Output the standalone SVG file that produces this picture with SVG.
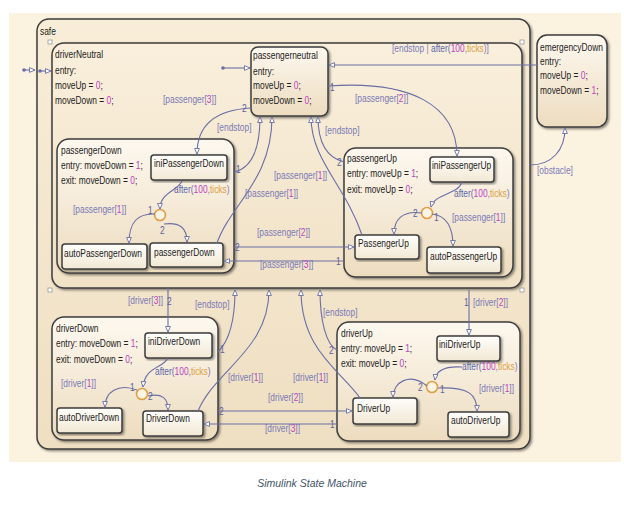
<svg xmlns="http://www.w3.org/2000/svg" width="624" height="514" viewBox="0 0 624 514">
<defs>
<style>
text{font-family:"Liberation Sans",Arial,sans-serif;font-size:10.5px}
.st{fill:#222}
.lb{fill:#7a7ab6}
.n{fill:#c040c0}
.tk{fill:#d9a040}
.af{fill:#5a66a8}
.nm{fill:#5d6099}
.c{fill:none;stroke:#6a6ea6;stroke-width:1.1}
.box{stroke:#3c3c3c;stroke-width:1.5}
.comp{fill:url(#gComp)}
.leaf{fill:url(#gLeaf)}
.jn{fill:#fbf3e4;stroke:#e0a048;stroke-width:1.6}
.sq{fill:#fff;stroke:#999;stroke-width:0.8}
.dot{fill:#6a6ea6}
</style>
<linearGradient id="gSafe" x1="0" y1="0" x2="0" y2="1"><stop offset="0" stop-color="#f8edd8"/><stop offset="1" stop-color="#efdfc2"/></linearGradient>
<linearGradient id="gDN" x1="0" y1="0" x2="0" y2="1"><stop offset="0" stop-color="#f9efdc"/><stop offset="1" stop-color="#f1e2c7"/></linearGradient>
<linearGradient id="gComp" x1="0" y1="0" x2="0" y2="1"><stop offset="0" stop-color="#fdf8ef"/><stop offset="1" stop-color="#eddcbf"/></linearGradient>
<linearGradient id="gLeaf" x1="0" y1="0" x2="0" y2="1"><stop offset="0" stop-color="#fffefb"/><stop offset="1" stop-color="#f2e8d4"/></linearGradient>
<filter id="sh" x="-10%" y="-10%" width="120%" height="120%"><feDropShadow dx="1.5" dy="1.5" stdDeviation="1" flood-color="#000" flood-opacity="0.45"/></filter>
<marker id="ar" markerWidth="8" markerHeight="8" refX="6" refY="3" orient="auto" markerUnits="userSpaceOnUse"><path d="M0.5,0.6 L6,3 L0.5,5.4 Z" fill="#fff" stroke="#6a6ea6" stroke-width="0.9"/></marker>
</defs>

<rect x="0" y="0" width="624" height="514" fill="#ffffff"/>
<rect x="9" y="13" width="612" height="449" fill="#fcf2e0"/>

<g id="safe">
<rect class="box" x="37" y="19" width="493" height="430" rx="12" fill="url(#gSafe)" filter="url(#sh)"/>
<text class="st" transform="scale(0.8 1)" x="50" y="35">safe</text>
</g>

<g id="driverNeutral">
<rect class="box" x="52" y="43" width="470" height="245" rx="12" fill="url(#gDN)" filter="url(#sh)"/>
<text class="st" transform="scale(0.8 1)" x="68.75" y="58">driverNeutral</text>
<text class="st" transform="scale(0.8 1)" x="68.75" y="74">entry:</text>
<text class="st" transform="scale(0.8 1)" x="68.75" y="89">moveUp = <tspan class="n">0</tspan>;</text>
<text class="st" transform="scale(0.8 1)" x="68.75" y="104">moveDown = <tspan class="n">0</tspan>;</text>
<rect class="sq" x="48" y="40" width="4" height="4"/>
<rect class="sq" x="520" y="40" width="4" height="4"/>
<rect class="sq" x="48" y="288" width="4" height="4"/>
<rect class="sq" x="520" y="288" width="4" height="4"/>
</g>

<g id="emergencyDown">
<rect class="box comp" x="537" y="35" width="70" height="92" rx="10" filter="url(#sh)"/>
<text class="st" transform="scale(0.8 1)" x="675" y="51">emergencyDown</text>
<text class="st" transform="scale(0.8 1)" x="675" y="65">entry:</text>
<text class="st" transform="scale(0.8 1)" x="675" y="79">moveUp = <tspan class="n">0</tspan>;</text>
<text class="st" transform="scale(0.8 1)" x="675" y="94">moveDown = <tspan class="n">1</tspan>;</text>
</g>

<g id="passengerneutral">
<rect class="box comp" x="251" y="47" width="77" height="69" rx="7" filter="url(#sh)"/>
<text class="st" transform="scale(0.8 1)" x="316.25" y="59">passengerneutral</text>
<text class="st" transform="scale(0.8 1)" x="316.25" y="75">entry:</text>
<text class="st" transform="scale(0.8 1)" x="316.25" y="89">moveUp = <tspan class="n">0</tspan>;</text>
<text class="st" transform="scale(0.8 1)" x="316.25" y="104">moveDown = <tspan class="n">0</tspan>;</text>
</g>

<g id="passengerDown">
<rect class="box comp" x="57" y="139" width="177" height="134" rx="12" filter="url(#sh)"/>
<text class="st" transform="scale(0.8 1)" x="76.25" y="154">passengerDown</text>
<text class="st" transform="scale(0.8 1)" x="76.25" y="169">entry: moveDown = <tspan class="n">1</tspan>;</text>
<text class="st" transform="scale(0.8 1)" x="76.25" y="184">exit: moveDown = <tspan class="n">0</tspan>;</text>
</g>
<g id="iniPassengerDown">
<rect class="box leaf" x="151" y="155" width="76" height="25" rx="3" filter="url(#sh)"/>
<text class="st" transform="scale(0.8 1)" x="192.5" y="167">iniPassengerDown</text>
</g>
<g id="autoPassengerDown">
<rect class="box leaf" x="62" y="244" width="85" height="25" rx="3" filter="url(#sh)"/>
<text class="st" transform="scale(0.8 1)" x="80" y="257">autoPassengerDown</text>
</g>
<g id="passengerDownLeaf">
<rect class="box leaf" x="150" y="243" width="73" height="24" rx="3" filter="url(#sh)"/>
<text class="st" transform="scale(0.8 1)" x="192.5" y="256">passengerDown</text>
</g>
<g id="junctionPD"><circle class="jn" cx="160" cy="215" r="5.5"/></g>

<g id="passengerUp">
<rect class="box comp" x="344" y="148" width="169" height="129" rx="12" filter="url(#sh)"/>
<text class="st" transform="scale(0.8 1)" x="433.75" y="162">passengerUp</text>
<text class="st" transform="scale(0.8 1)" x="433.75" y="177">entry: moveUp = <tspan class="n">1</tspan>;</text>
<text class="st" transform="scale(0.8 1)" x="433.75" y="193">exit: moveUp = <tspan class="n">0</tspan>;</text>
</g>
<g id="iniPassengerUp">
<rect class="box leaf" x="430" y="157" width="64" height="25" rx="3" filter="url(#sh)"/>
<text class="st" transform="scale(0.8 1)" x="540" y="169">iniPassengerUp</text>
</g>
<g id="PassengerUp">
<rect class="box leaf" x="355" y="235" width="64" height="24" rx="3" filter="url(#sh)"/>
<text class="st" transform="scale(0.8 1)" x="447.5" y="247">PassengerUp</text>
</g>
<g id="autoPassengerUp">
<rect class="box leaf" x="427" y="247" width="74" height="26" rx="3" filter="url(#sh)"/>
<text class="st" transform="scale(0.8 1)" x="537.5" y="260">autoPassengerUp</text>
</g>
<g id="junctionPU"><circle class="jn" cx="427" cy="213" r="5.5"/></g>

<g id="driverDown">
<rect class="box comp" x="52" y="317" width="166" height="123" rx="12" filter="url(#sh)"/>
<text class="st" transform="scale(0.8 1)" x="70" y="332">driverDown</text>
<text class="st" transform="scale(0.8 1)" x="70" y="347">entry: moveDown = <tspan class="n">1</tspan>;</text>
<text class="st" transform="scale(0.8 1)" x="70" y="363">exit: moveDown = <tspan class="n">0</tspan>;</text>
</g>
<g id="iniDriverDown">
<rect class="box leaf" x="145" y="333" width="67" height="25" rx="3" filter="url(#sh)"/>
<text class="st" transform="scale(0.8 1)" x="185" y="345">iniDriverDown</text>
</g>
<g id="autoDriverDown">
<rect class="box leaf" x="57" y="408" width="65" height="25" rx="3" filter="url(#sh)"/>
<text class="st" transform="scale(0.8 1)" x="73.75" y="421">autoDriverDown</text>
</g>
<g id="DriverDown">
<rect class="box leaf" x="143" y="411" width="60" height="25" rx="3" filter="url(#sh)"/>
<text class="st" transform="scale(0.8 1)" x="182.5" y="422">DriverDown</text>
</g>
<g id="junctionDD"><circle class="jn" cx="142" cy="394" r="5.5"/></g>

<g id="driverUp">
<rect class="box comp" x="337" y="322" width="183" height="119" rx="12" filter="url(#sh)"/>
<text class="st" transform="scale(0.8 1)" x="426.25" y="337">driverUp</text>
<text class="st" transform="scale(0.8 1)" x="426.25" y="352">entry: moveUp = <tspan class="n">1</tspan>;</text>
<text class="st" transform="scale(0.8 1)" x="426.25" y="367">exit: moveUp = <tspan class="n">0</tspan>;</text>
</g>
<g id="iniDriverUp">
<rect class="box leaf" x="437" y="336" width="63" height="25" rx="3" filter="url(#sh)"/>
<text class="st" transform="scale(0.8 1)" x="548.75" y="348">iniDriverUp</text>
</g>
<g id="DriverUp">
<rect class="box leaf" x="353" y="398" width="64" height="26" rx="3" filter="url(#sh)"/>
<text class="st" transform="scale(0.8 1)" x="446.25" y="412">DriverUp</text>
</g>
<g id="autoDriverUp">
<rect class="box leaf" x="448" y="412" width="61" height="25" rx="3" filter="url(#sh)"/>
<text class="st" transform="scale(0.8 1)" x="563.75" y="424">autoDriverUp</text>
</g>
<g id="junctionDU"><circle class="jn" cx="432" cy="387" r="5.5"/></g>

<g id="connectors">
<circle class="dot" cx="24" cy="70" r="1.8"/><path class="c" d="M24,70 L35,70" marker-end="url(#ar)"/>
<circle class="dot" cx="40" cy="71" r="1.8"/><path class="c" d="M40,71 L51,71" marker-end="url(#ar)"/>
<circle class="dot" cx="223" cy="68" r="1.8"/><path class="c" d="M223,68 L250,68" marker-end="url(#ar)"/>

<path class="c" d="M537,65 L329,65" marker-end="url(#ar)"/>
<path class="c" d="M530,165 C552,165 565,150 565,128" marker-end="url(#ar)"/>
<path class="c" d="M251,108 C215,110 197,125 197,154" marker-end="url(#ar)"/>
<path class="c" d="M234,172 C252,168 260,150 260,117" marker-end="url(#ar)"/>
<path class="c" d="M217,243 C230,205 272,180 272,117" marker-end="url(#ar)"/>
<path class="c" d="M362,235 C345,185 311,160 311,117" marker-end="url(#ar)"/>
<path class="c" d="M344,162 C328,158 318,145 318,117" marker-end="url(#ar)"/>
<path class="c" d="M328,86 C410,80 457,105 457,156" marker-end="url(#ar)"/>
<path class="c" d="M234,247 L354,247" marker-end="url(#ar)"/>
<path class="c" d="M344,261 L224,261" marker-end="url(#ar)"/>
<path class="c" d="M182,181 C178,191 160,192 160,209" marker-end="url(#ar)"/>
<path class="c" d="M155,214 C138,213 129,222 129,243" marker-end="url(#ar)"/>
<path class="c" d="M164,224 C180,222 187,228 187,242" marker-end="url(#ar)"/>
<path class="c" d="M462,182 C458,195 435,193 431,207" marker-end="url(#ar)"/>
<path class="c" d="M422,213 C402,210 394,220 394,234" marker-end="url(#ar)"/>
<path class="c" d="M432,214 C449,216 453,230 453,246" marker-end="url(#ar)"/>

<path class="c" d="M168,288 L168,332" marker-end="url(#ar)"/>
<path class="c" d="M218,352 C230,340 235,320 235,290" marker-end="url(#ar)"/>
<path class="c" d="M198,411 C215,370 269,350 269,290" marker-end="url(#ar)"/>
<path class="c" d="M360,398 C340,370 301,350 301,290" marker-end="url(#ar)"/>
<path class="c" d="M337,350 C326,345 320,320 320,290" marker-end="url(#ar)"/>
<path class="c" d="M469,290 L469,335" marker-end="url(#ar)"/>
<path class="c" d="M218,411 L352,411" marker-end="url(#ar)"/>
<path class="c" d="M337,424 L204,424" marker-end="url(#ar)"/>
<path class="c" d="M168,358 C164,368 145,366 143,387" marker-end="url(#ar)"/>
<path class="c" d="M137,390 C118,383 105,392 105,407" marker-end="url(#ar)"/>
<path class="c" d="M148,396 C162,393 168,398 168,410" marker-end="url(#ar)"/>
<path class="c" d="M462,367 C445,366 436,370 435,380" marker-end="url(#ar)"/>
<path class="c" d="M427,386 C410,372 393,382 393,397" marker-end="url(#ar)"/>
<path class="c" d="M438,388 C470,387 477,395 477,411" marker-end="url(#ar)"/>

<text class="lb" transform="scale(0.8 1)" x="490" y="52">[endstop | <tspan class="af">after(</tspan><tspan class="n">100</tspan>,<tspan class="tk">ticks</tspan>)]</text>
<text class="lb" transform="scale(0.8 1)" x="671.25" y="174">[obstacle]</text>
<text class="lb" transform="scale(0.8 1)" x="271.25" y="131">[endstop]</text>
<text class="lb" transform="scale(0.8 1)" x="406.25" y="134">[endstop]</text>
<text class="lb" transform="scale(0.8 1)" x="243.75" y="308">[endstop]</text>
<text class="lb" transform="scale(0.8 1)" x="403.75" y="316">[endstop]</text>

<text class="lb" transform="scale(0.8 1)" x="203.75" y="103">[passenger[<tspan class="n">3</tspan>]]</text>
<text class="lb" transform="scale(0.8 1)" x="443.75" y="102">[passenger[<tspan class="n">2</tspan>]]</text>
<text class="lb" transform="scale(0.8 1)" x="342.5" y="179">[passenger[<tspan class="n">1</tspan>]]</text>
<text class="lb" transform="scale(0.8 1)" x="306.25" y="197">[passenger[<tspan class="n">1</tspan>]]</text>
<text class="lb" transform="scale(0.8 1)" x="91.25" y="213">[passenger[<tspan class="n">1</tspan>]]</text>
<text class="lb" transform="scale(0.8 1)" x="565" y="221">[passenger[<tspan class="n">1</tspan>]]</text>
<text class="lb" transform="scale(0.8 1)" x="321.25" y="236">[passenger[<tspan class="n">2</tspan>]]</text>
<text class="lb" transform="scale(0.8 1)" x="325" y="268">[passenger[<tspan class="n">3</tspan>]]</text>

<text class="lb" transform="scale(0.8 1)" x="217.5" y="193"><tspan class="af">after(</tspan><tspan class="n">100</tspan>,<tspan class="tk">ticks</tspan>)</text>
<text class="lb" transform="scale(0.8 1)" x="567.5" y="197"><tspan class="af">after(</tspan><tspan class="n">100</tspan>,<tspan class="tk">ticks</tspan>)</text>
<text class="lb" transform="scale(0.8 1)" x="193.75" y="375"><tspan class="af">after(</tspan><tspan class="n">100</tspan>,<tspan class="tk">ticks</tspan>)</text>
<text class="lb" transform="scale(0.8 1)" x="577.5" y="370"><tspan class="af">after(</tspan><tspan class="n">100</tspan>,<tspan class="tk">ticks</tspan>)</text>

<text class="lb" transform="scale(0.8 1)" x="160" y="304">[driver[<tspan class="n">3</tspan>]]</text>
<text class="lb" transform="scale(0.8 1)" x="591.25" y="306">[driver[<tspan class="n">2</tspan>]]</text>
<text class="lb" transform="scale(0.8 1)" x="76.25" y="387">[driver[<tspan class="n">1</tspan>]]</text>
<text class="lb" transform="scale(0.8 1)" x="285" y="381">[driver[<tspan class="n">1</tspan>]]</text>
<text class="lb" transform="scale(0.8 1)" x="366.25" y="381">[driver[<tspan class="n">1</tspan>]]</text>
<text class="lb" transform="scale(0.8 1)" x="335" y="401">[driver[<tspan class="n">2</tspan>]]</text>
<text class="lb" transform="scale(0.8 1)" x="331.25" y="432">[driver[<tspan class="n">3</tspan>]]</text>
<text class="lb" transform="scale(0.8 1)" x="598.75" y="392">[driver[<tspan class="n">1</tspan>]]</text>

<text class="nm" transform="scale(0.8 1)" x="302.5" y="112">2</text>
<text class="nm" transform="scale(0.8 1)" x="412.5" y="91">1</text>
<text class="nm" transform="scale(0.8 1)" x="295" y="173">1</text>
<text class="nm" transform="scale(0.8 1)" x="421.25" y="166">2</text>
<text class="nm" transform="scale(0.8 1)" x="185" y="214">1</text>
<text class="nm" transform="scale(0.8 1)" x="200" y="234">2</text>
<text class="nm" transform="scale(0.8 1)" x="516.25" y="217">2</text>
<text class="nm" transform="scale(0.8 1)" x="542.5" y="221">1</text>
<text class="nm" transform="scale(0.8 1)" x="293.75" y="251">2</text>
<text class="nm" transform="scale(0.8 1)" x="420" y="265">1</text>
<text class="nm" transform="scale(0.8 1)" x="208.75" y="305">2</text>
<text class="nm" transform="scale(0.8 1)" x="580" y="306">1</text>
<text class="nm" transform="scale(0.8 1)" x="275" y="353">1</text>
<text class="nm" transform="scale(0.8 1)" x="411.25" y="354">2</text>
<text class="nm" transform="scale(0.8 1)" x="162.5" y="391">1</text>
<text class="nm" transform="scale(0.8 1)" x="185" y="400">2</text>
<text class="nm" transform="scale(0.8 1)" x="273.75" y="415">2</text>
<text class="nm" transform="scale(0.8 1)" x="412.5" y="428">1</text>
<text class="nm" transform="scale(0.8 1)" x="522.5" y="391">2</text>
<text class="nm" transform="scale(0.8 1)" x="550" y="393">1</text>
</g>

<text x="312" y="487" text-anchor="middle" fill="#44546a" font-family="'Liberation Sans',Arial,sans-serif" font-style="italic" font-size="11.4">Simulink State Machine</text>
</svg>
